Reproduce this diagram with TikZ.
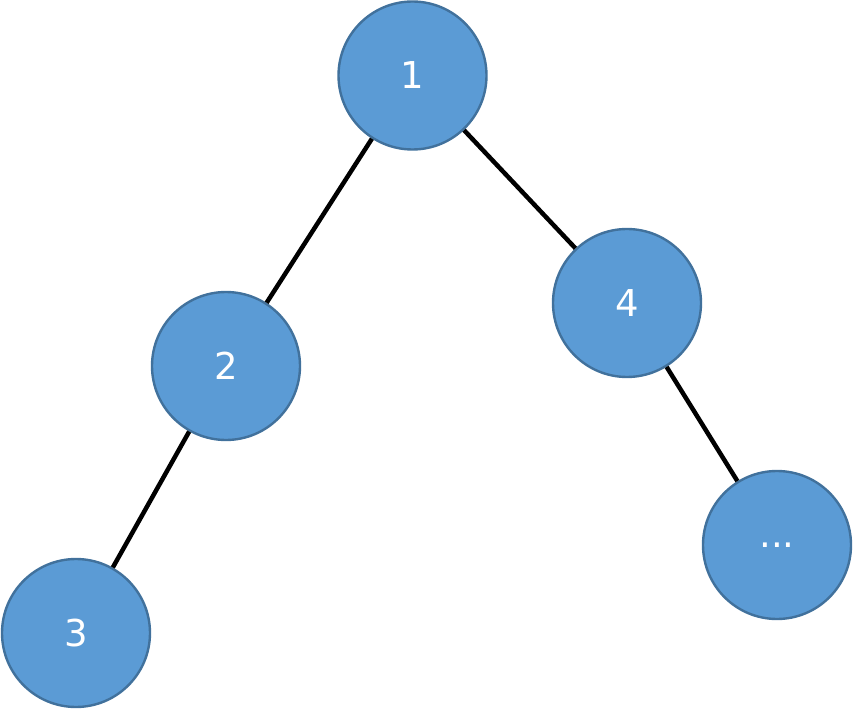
\documentclass[tikz,border=0pt]{standalone}
\usepackage{fontspec}
\setmainfont{DejaVu Sans}
\definecolor{nodefill}{HTML}{5B9BD5}
\definecolor{nodeline}{HTML}{41719C}
\usetikzlibrary{positioning}

\begin{document}
\begin{tikzpicture}[x=1pt, y=-1pt,
          treenode/.style={circle, draw=nodeline, fill=nodefill, line width=2.4pt, minimum size=148pt, inner sep=0pt, text=white, font=\fontsize{37}{44}\selectfont},
          link/.style={line width=4.5pt, draw=black}]

        \useasboundingbox (0,0) rectangle (854,711);

        \node [treenode] (n1) at (412.5,75.5) {1};
        \node [treenode] (n2) at (226,366) {2};
        \node [treenode] (n3) at (76,633) {3};
        \node [treenode] (n4) at (627,303) {4};
        \node [treenode] (n5) at (777,545) {...};

        \draw [link] (n1) -- (n2);
        \draw [link] (n2) -- (n3);
        \draw [link] (n1) -- (n4);
        \draw [link] (n4) -- (n5);
      \end{tikzpicture}
\end{document}
